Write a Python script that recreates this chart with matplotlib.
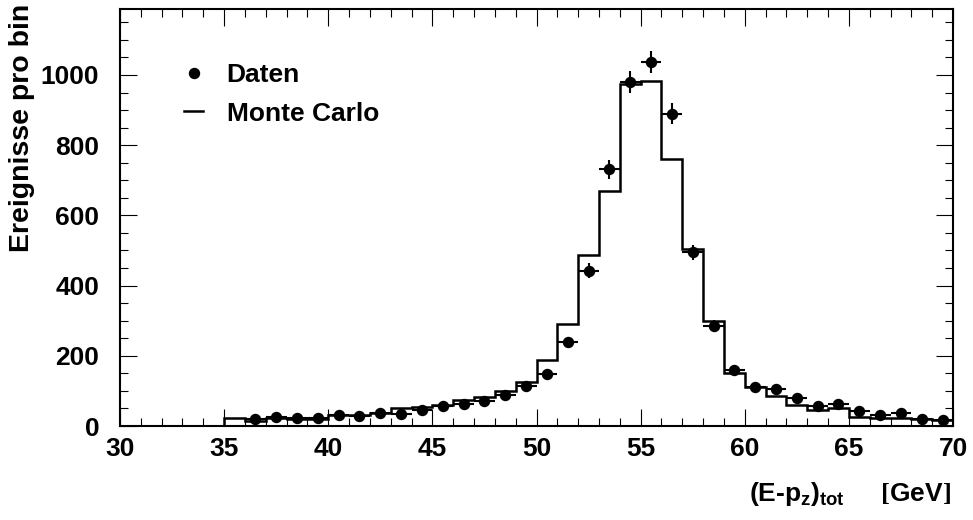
import numpy as np
import matplotlib
matplotlib.use("Agg")
import matplotlib.pyplot as plt
from matplotlib.lines import Line2D
from matplotlib.ticker import MultipleLocator

plt.rcParams["font.family"] = ["Liberation Sans", "DejaVu Sans"]
plt.rcParams["font.weight"] = "bold"
plt.rcParams["mathtext.fontset"] = "custom"
plt.rcParams["mathtext.bf"] = "Liberation Sans:bold"
plt.rcParams["mathtext.rm"] = "Liberation Serif"

# Monte Carlo histogram, 1 GeV bins from 35 to 70
mc_edges = np.arange(35, 71, 1)
mc_counts = [22, 14, 24, 21, 21, 32, 30, 36, 50, 55,
             61, 75, 84, 99, 124, 187, 292, 487, 669, 975,
             984, 761, 503, 299, 152, 110, 86, 59, 45, 51,
             26, 22, 24, 20, 18]

# data points at bin centres 36.5 .. 69.5
data_x = np.arange(36.5, 70, 1)
data_y = [20, 27, 24, 22, 32, 28, 36, 34, 45, 58,
          64, 70, 88, 115, 149, 239, 443, 732, 981, 1037,
          890, 495, 285, 159, 112, 105, 80, 57, 63, 42,
          32, 36, 20, 17]
data_err = [4.5, 5.2, 4.9, 4.7, 5.7, 5.3, 6.0, 5.8, 6.7, 7.6,
            8.0, 8.4, 9.4, 10.7, 12.2, 15.5, 21, 27, 31, 32,
            30, 22, 17, 12.6, 10.6, 10.2, 9.0, 7.5, 7.9, 6.5,
            5.7, 6.0, 4.5, 4.1]

FS = 19

fig = plt.figure(figsize=(9.73, 5.2), dpi=100)
ax = fig.add_axes([120 / 973, 1 - 426 / 520, 833 / 973, 417 / 520])

ax.stairs(mc_counts, mc_edges, color="black", linewidth=1.8)
ax.errorbar(data_x, data_y, xerr=0.5, yerr=data_err, fmt="o", color="black",
            markersize=7.2, elinewidth=1.5, capsize=0)

ax.set_xlim(30, 70)
ax.set_ylim(0, 1188)
ax.xaxis.set_major_locator(MultipleLocator(5))
ax.xaxis.set_minor_locator(MultipleLocator(1))
ax.yaxis.set_major_locator(MultipleLocator(200))
ax.yaxis.set_minor_locator(MultipleLocator(50))
ax.tick_params(which="both", direction="in", top=True, right=True,
               width=0.8, labelsize=FS)
ax.tick_params(which="major", length=12)
ax.tick_params(which="minor", length=6)
ax.tick_params(axis="y", pad=15)
ax.tick_params(axis="x", pad=8)
for lab in ax.get_xticklabels() + ax.get_yticklabels():
    lab.set_fontweight("bold")
for sp in ax.spines.values():
    sp.set_linewidth(1.5)

handles = [
    Line2D([], [], marker="o", linestyle="none", color="black", markersize=7.2),
    Line2D([], [], color="black", linewidth=1.8),
]
ax.legend(handles, ["Daten", "Monte Carlo"], loc="upper left",
          bbox_to_anchor=(184 / 973, 1 - 63 / 520),
          bbox_transform=fig.transFigure, frameon=False,
          fontsize=FS, handlelength=0.72, handletextpad=0.9,
          labelspacing=0.55, borderpad=0, borderaxespad=0)

fig.text(22 / 973, 1 - 4 / 520, "Ereignisse pro bin", rotation=90,
         ha="center", va="top", fontsize=20.5, fontweight="bold")
fig.text(951 / 973, 1 - 501 / 520,
         r"(E-p$_{\mathbf{z}}$)$_{\mathbf{tot}}$     $\mathrm{[}$GeV$\mathrm{]}$",
         ha="right", va="baseline", fontsize=FS, fontweight="bold")

fig.savefig("out.png", dpi=100)
plt.close(fig)
